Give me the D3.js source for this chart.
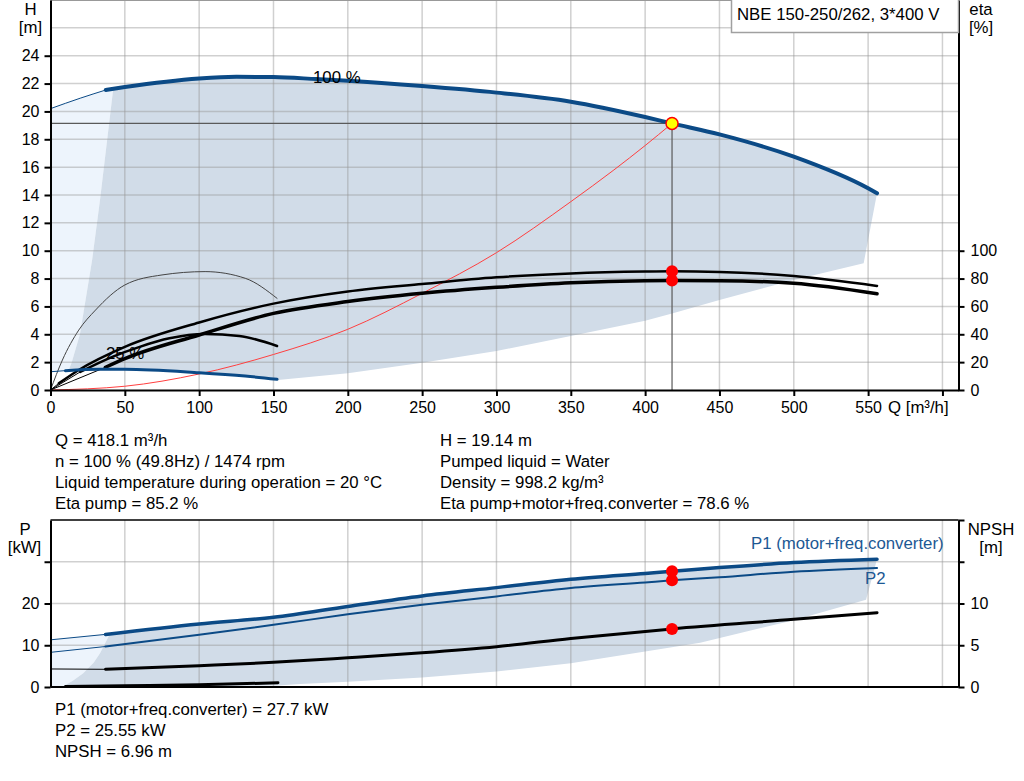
<!DOCTYPE html>
<html>
<head>
<meta charset="utf-8">
<script src="https://cdn.jsdelivr.net/npm/d3@7"></script>
<style>
  html, body { margin: 0; padding: 0; background: #fff; }
  svg text { font-family: "Liberation Sans", Arial, sans-serif; font-size: 16.8px; fill: #000; }
</style>
</head>
<body>
<svg id="chart" width="1024" height="781"></svg>
<script>
// ---- data ----
// H curve at 100 % speed
const q100 = [37.2, 50, 100, 125, 150, 179, 200, 250, 300, 350, 400, 418.1, 450, 500, 550, 556];
const h100 = [21.54, 21.75, 22.37, 22.49, 22.47, 22.32, 22.2, 21.82, 21.35, 20.7, 19.6, 19.14, 18.35, 16.75, 14.48, 14.12];
const qMaxExt = [0, 20, 37.2];
const hMaxExt = [20.2, 20.95, 21.54];
// H curve at 25 % speed
const q25 = [10, 33.6, 50, 100, 131, 152.4];
const h25 = [1.39, 1.49, 1.49, 1.24, 1.0, 0.77];
const q25Ext = [0, 10];
const h25Ext = [1.31, 1.39];
// operating area edges
const qAreaLeft = [12.3, 14.3, 19.8, 28, 33.3, 42.2];
const hAreaLeft = [1.44, 2, 4, 9.33, 13.64, 21.62];
const qAreaBottom = [153, 200, 250, 300, 350, 400, 418.1, 450, 500, 547];
const hAreaBottom = [0.72, 1.2, 1.96, 2.8, 3.88, 4.98, 5.5, 6.46, 7.9, 9.1];
// system curve
const qSys = [0, 50, 100, 150, 200, 250, 300, 350, 379, 400, 418.1];
const hSys = [0, 0.27, 1.15, 2.55, 4.36, 6.94, 9.86, 13.52, 15.8, 17.55, 19.14];
// efficiencies [%]
const qEtaPump = [5.6, 19, 50, 100, 150, 200, 250, 300, 350, 400, 418.1, 450, 500, 556];
const etaPump = [4.8, 14.4, 31, 48.5, 62, 70.7, 76.1, 80.9, 83.7, 85.0, 85.2, 84.8, 81.8, 74.7];
const qEtaTot = [37, 50, 100, 150, 200, 250, 300, 350, 400, 418.1, 450, 500, 556];
const etaTot = [16.3, 22.5, 39.5, 55, 63.5, 69.4, 73.7, 77, 78.5, 78.6, 78.5, 76.6, 69.1];
const qEtaPump25 = [0, 8, 19, 30.3, 50, 75, 104, 131, 152.4];
const etaPump25 = [0, 21.5, 43, 57.4, 75.4, 82.6, 85, 80.2, 65.8];
const qEtaTot25 = [20, 42, 60, 80, 104, 127, 152.4];
const etaTot25 = [13, 24, 31, 37.1, 40.2, 38.8, 31.6];

// power [kW] and NPSH [m]
const qP1 = [37, 100, 150, 200, 250, 300, 350, 400, 418.1, 450, 500, 556];
const p1 = [12.6, 15.1, 16.7, 19.3, 21.8, 23.8, 25.8, 27.2, 27.7, 28.6, 29.8, 30.6];
const qP1Ext = [0, 37];
const p1Ext = [11.3, 12.6];
const qP2 = [37, 100, 150, 200, 250, 300, 350, 400, 418.1, 450, 500, 556];
const p2 = [9.7, 12.5, 14.9, 17.4, 19.7, 21.7, 23.7, 25.05, 25.55, 26.3, 27.6, 28.5];
const qP2Ext = [0, 37];
const p2Ext = [8.3, 9.7];
const qNpsh = [37, 100, 150, 200, 250, 300, 350, 418.1, 500, 556];
const npsh = [2.12, 2.55, 2.95, 3.5, 4.1, 4.83, 5.8, 6.96, 8.1, 8.9];
const qNpshExt = [0, 37];
const npshExt = [2.16, 2.12];
const qP25 = [10, 50, 100, 153];
const p25 = [0.1, 0.3, 0.55, 1.0];
const qPAreaLeft = [10, 15, 22, 29, 33.3, 40];
const pAreaLeft = [0.5, 1.5, 3.3, 5.8, 8.1, 12.75];
const qPAreaBottom = [153, 168, 200, 250, 300, 350, 400, 437, 500, 548.6];
const pAreaBottom = [0.35, 0.72, 1.27, 2.3, 3.7, 5.7, 8.5, 10.6, 16, 20.9];

// duty point
const dutyQ = 418.1, dutyH = 19.14, dutyEtaPump = 85.2, dutyEtaTot = 78.6;
const dutyP1 = 27.7, dutyP2 = 25.55, dutyNpsh = 6.96;

const infoLeft = ["Q = 418.1 m³/h", "n = 100 % (49.8Hz) / 1474 rpm",
  "Liquid temperature during operation = 20 °C", "Eta pump = 85.2 %"];
const infoRight = ["H = 19.14 m", "Pumped liquid = Water", "Density = 998.2 kg/m³",
  "Eta pump+motor+freq.converter = 78.6 %"];
const infoBottom = ["P1 (motor+freq.converter) = 27.7 kW", "P2 = 25.55 kW", "NPSH = 6.96 m"];

const qTicks = d3.range(0, 601, 50);
const hTicks = d3.range(0, 25, 2);
const etaTicks = d3.range(0, 101, 20);
const pTicks = [0, 10, 20, 30];
const npshTicks = [0, 5, 10, 15, 20];

// ---- scales ----
const left = 50.5, right = 958.5;
const x = d3.scaleLinear().domain([0, 610.8]).range([left, right]);
const yH = d3.scaleLinear().domain([0, 28]).range([390, 0]);
const yEta = d3.scaleLinear().domain([0, 280]).range([390, 0]);
const yP = d3.scaleLinear().domain([0, 40]).range([687, 520]);
const yN = d3.scaleLinear().domain([0, 20]).range([687, 520]);

const blue = "#0b4a86";
const areaDark = "#d1dce8";
const areaLight = "#edf4fc";
const gridColor = "rgba(150,150,150,0.45)";

const svg = d3.select("#chart");
const zip = (qs, vs) => qs.map((q, i) => [q, vs[i]]);

const curve = (ys) => d3.line().x(d => x(d[0])).y(d => ys(d[1])).curve(d3.curveMonotoneX);
const poly = (ys) => d3.line().x(d => x(d[0])).y(d => ys(d[1]));

function drawLine(g, pts, ys, color, w) {
  g.append("path").attr("d", curve(ys)(pts))
    .attr("fill", "none").attr("stroke", color).attr("stroke-width", w)
    .attr("stroke-linecap", "round").attr("stroke-linejoin", "round");
}

function grid(g, ys, yVals, y0, y1) {
  g.selectAll(null).data(qTicks.slice(1)).join("line")
    .attr("x1", d => x(d)).attr("x2", d => x(d)).attr("y1", y0).attr("y2", y1)
    .attr("stroke", gridColor).attr("stroke-width", 1.5);
  g.selectAll(null).data(yVals).join("line")
    .attr("x1", left).attr("x2", right).attr("y1", d => ys(d)).attr("y2", d => ys(d))
    .attr("stroke", gridColor).attr("stroke-width", 1.5);
}

function styleAxis(g) {
  g.selectAll("path.domain").attr("stroke", "#000").attr("stroke-width", 2);
  g.selectAll(".tick line").attr("stroke", "#000").attr("stroke-width", 2);
  g.selectAll(".tick text").style("font-size", "16px").attr("fill", "#000");
  g.attr("font-family", null).attr("font-size", null);
}

// ================= top chart =================
const gTop = svg.append("g");

// light area left of the minimum flow
const lightPts = zip(qMaxExt, hMaxExt)
  .concat(zip(qAreaLeft, hAreaLeft).reverse())
  .concat(zip(q25Ext, h25Ext).reverse());
gTop.append("path").attr("d", poly(yH)(lightPts) + "Z").attr("fill", areaLight);

// operating area
const darkPts = [[qAreaLeft[qAreaLeft.length - 1], hAreaLeft[hAreaLeft.length - 1]]]
  .concat(zip(q100, h100).filter(d => d[0] > 42.2))
  .concat(zip(qAreaBottom, hAreaBottom).reverse())
  .concat(zip(q25, h25).reverse().filter(d => d[0] > 12.3))
  .concat(zip(qAreaLeft, hAreaLeft));
gTop.append("path").attr("d", poly(yH)(darkPts) + "Z").attr("fill", areaDark);

grid(gTop, yH, d3.range(2, 29, 2), 0, 390);

// duty point guides
gTop.append("line").attr("x1", left).attr("x2", x(dutyQ)).attr("y1", yH(dutyH)).attr("y2", yH(dutyH))
  .attr("stroke", "#5a5a5a").attr("stroke-width", 1.2);
gTop.append("line").attr("x1", x(dutyQ)).attr("x2", x(dutyQ)).attr("y1", 390).attr("y2", yH(dutyH))
  .attr("stroke", "#5a5a5a").attr("stroke-width", 1.2);

// system curve
drawLine(gTop, zip(qSys, hSys), yH, "#ff4040", 1);

// efficiency curves
drawLine(gTop, [[0, 0], [qEtaPump[0], etaPump[0]]], yEta, "#000", 1);
drawLine(gTop, zip(qEtaPump, etaPump), yEta, "#000", 2.5);
drawLine(gTop, [[0, 0], [qEtaTot[0], etaTot[0]]], yEta, "#000", 1);
drawLine(gTop, zip(qEtaTot, etaTot), yEta, "#000", 3.5);
drawLine(gTop, zip(qEtaPump25, etaPump25), yEta, "#444", 1);
drawLine(gTop, [[0, 0], [qEtaTot25[0], etaTot25[0]]], yEta, "#000", 1);
drawLine(gTop, zip(qEtaTot25, etaTot25), yEta, "#000", 2.5);

// head curves
drawLine(gTop, zip(qMaxExt, hMaxExt), yH, blue, 1);
drawLine(gTop, zip(q100, h100), yH, blue, 4);
drawLine(gTop, zip(q25Ext, h25Ext), yH, blue, 1);
drawLine(gTop, zip(q25, h25), yH, blue, 3);

gTop.append("text").attr("x", 313).attr("y", 83).text("100 %");
gTop.append("text").attr("x", 106).attr("y", 359).text("25 %");

// duty markers
[dutyEtaPump, dutyEtaTot].forEach(v => {
  gTop.append("circle").attr("cx", x(dutyQ)).attr("cy", yEta(v)).attr("r", 6).attr("fill", "#ff0000");
});
gTop.append("circle").attr("cx", x(dutyQ)).attr("cy", yH(dutyH)).attr("r", 6)
  .attr("fill", "#ffff00").attr("stroke", "#ff0000").attr("stroke-width", 1.5);

// axes
gTop.append("line").attr("x1", left).attr("x2", right).attr("y1", 0.5).attr("y2", 0.5)
  .attr("stroke", "#999").attr("stroke-width", 1);
const axH = gTop.append("g").attr("transform", `translate(${left},0)`)
  .call(d3.axisLeft(yH).tickValues(hTicks).tickSize(6).tickPadding(5).tickSizeOuter(0));
styleAxis(axH);
const axQ = gTop.append("g").attr("transform", "translate(0,390)")
  .call(d3.axisBottom(x).tickValues(qTicks).tickSize(6).tickPadding(6).tickSizeOuter(0)
    .tickFormat(d => d === 600 ? "" : d));
styleAxis(axQ);
const axEta = gTop.append("g").attr("transform", `translate(${right},0)`)
  .call(d3.axisRight(yEta).tickValues(etaTicks).tickSize(6).tickPadding(6).tickSizeOuter(0));
styleAxis(axEta);

gTop.append("text").attr("x", 30.5).attr("y", 15).attr("text-anchor", "middle").text("H");
gTop.append("text").attr("x", 30.5).attr("y", 33).attr("text-anchor", "middle").text("[m]");
gTop.append("text").attr("x", 981).attr("y", 15).attr("text-anchor", "middle").text("eta");
gTop.append("text").attr("x", 981).attr("y", 33).attr("text-anchor", "middle").text("[%]");
gTop.append("text").attr("x", 888).attr("y", 413).text("Q [m³/h]");

// title box
gTop.append("rect").attr("x", 731.5).attr("y", -1).attr("width", 227).attr("height", 33.5)
  .attr("fill", "#fff").attr("stroke", "#a0a0a0").attr("stroke-width", 1.5);
gTop.append("text").attr("x", 737).attr("y", 19.5).text("NBE 150-250/262, 3*400 V");

// info text
infoLeft.forEach((t, i) => svg.append("text").attr("x", 55).attr("y", 446 + i * 21).text(t));
infoRight.forEach((t, i) => svg.append("text").attr("x", 440).attr("y", 446 + i * 21).text(t));

// ================= bottom chart =================
const gBot = svg.append("g");

const pLight = zip(qP1Ext, p1Ext).concat([[40, 12.75]])
  .concat(zip(qPAreaLeft, pAreaLeft).reverse()).concat([[10, 0], [0, 0]]);
gBot.append("path").attr("d", poly(yP)(pLight) + "Z").attr("fill", areaLight);

const pDark = zip(qPAreaLeft, pAreaLeft)
  .concat(zip(qP1, p1).filter(d => d[0] > 40))
  .concat(zip(qPAreaBottom, pAreaBottom).reverse())
  .concat([[10, 0]]);
gBot.append("path").attr("d", poly(yP)(pDark) + "Z").attr("fill", areaDark);

grid(gBot, yP, [10, 20, 30], 520, 687);

drawLine(gBot, zip(qP1Ext, p1Ext), yP, blue, 1);
drawLine(gBot, zip(qP1, p1), yP, blue, 3.5);
drawLine(gBot, zip(qP2Ext, p2Ext), yP, blue, 1);
drawLine(gBot, zip(qP2, p2), yP, blue, 2);
drawLine(gBot, zip(qNpshExt, npshExt), yN, "#000", 1);
drawLine(gBot, zip(qNpsh, npsh), yN, "#000", 3);
drawLine(gBot, zip(qP25, p25), yP, "#000", 3);

[yP(dutyP1), yP(dutyP2), yN(dutyNpsh)].forEach(cy => {
  gBot.append("circle").attr("cx", x(dutyQ)).attr("cy", cy).attr("r", 6).attr("fill", "#ff0000");
});

gBot.append("line").attr("x1", left).attr("x2", right).attr("y1", 520).attr("y2", 520)
  .attr("stroke", "#000").attr("stroke-width", 1.5);
gBot.append("line").attr("x1", left).attr("x2", right).attr("y1", 687).attr("y2", 687)
  .attr("stroke", "#000").attr("stroke-width", 2);
const axP = gBot.append("g").attr("transform", `translate(${left},0)`)
  .call(d3.axisLeft(yP).tickValues(pTicks).tickSize(6).tickPadding(5).tickSizeOuter(0)
    .tickFormat(d => d === 30 ? "" : d));
styleAxis(axP);
const axN = gBot.append("g").attr("transform", `translate(${right},0)`)
  .call(d3.axisRight(yN).tickValues(npshTicks).tickSize(6).tickPadding(6).tickSizeOuter(0)
    .tickFormat(d => d >= 15 ? "" : d));
styleAxis(axN);

gBot.append("text").attr("x", 25).attr("y", 535).attr("text-anchor", "middle").text("P");
gBot.append("text").attr("x", 24.5).attr("y", 553).attr("text-anchor", "middle").text("[kW]");
gBot.append("text").attr("x", 991).attr("y", 535).attr("text-anchor", "middle").text("NPSH");
gBot.append("text").attr("x", 991).attr("y", 553).attr("text-anchor", "middle").text("[m]");
gBot.append("text").attr("x", 751).attr("y", 549).style("fill", "#1c5894").text("P1 (motor+freq.converter)");
gBot.append("text").attr("x", 865).attr("y", 584).style("fill", "#1c5894").text("P2");

infoBottom.forEach((t, i) => svg.append("text").attr("x", 55).attr("y", 715 + i * 21).text(t));
</script>
</body>
</html>
